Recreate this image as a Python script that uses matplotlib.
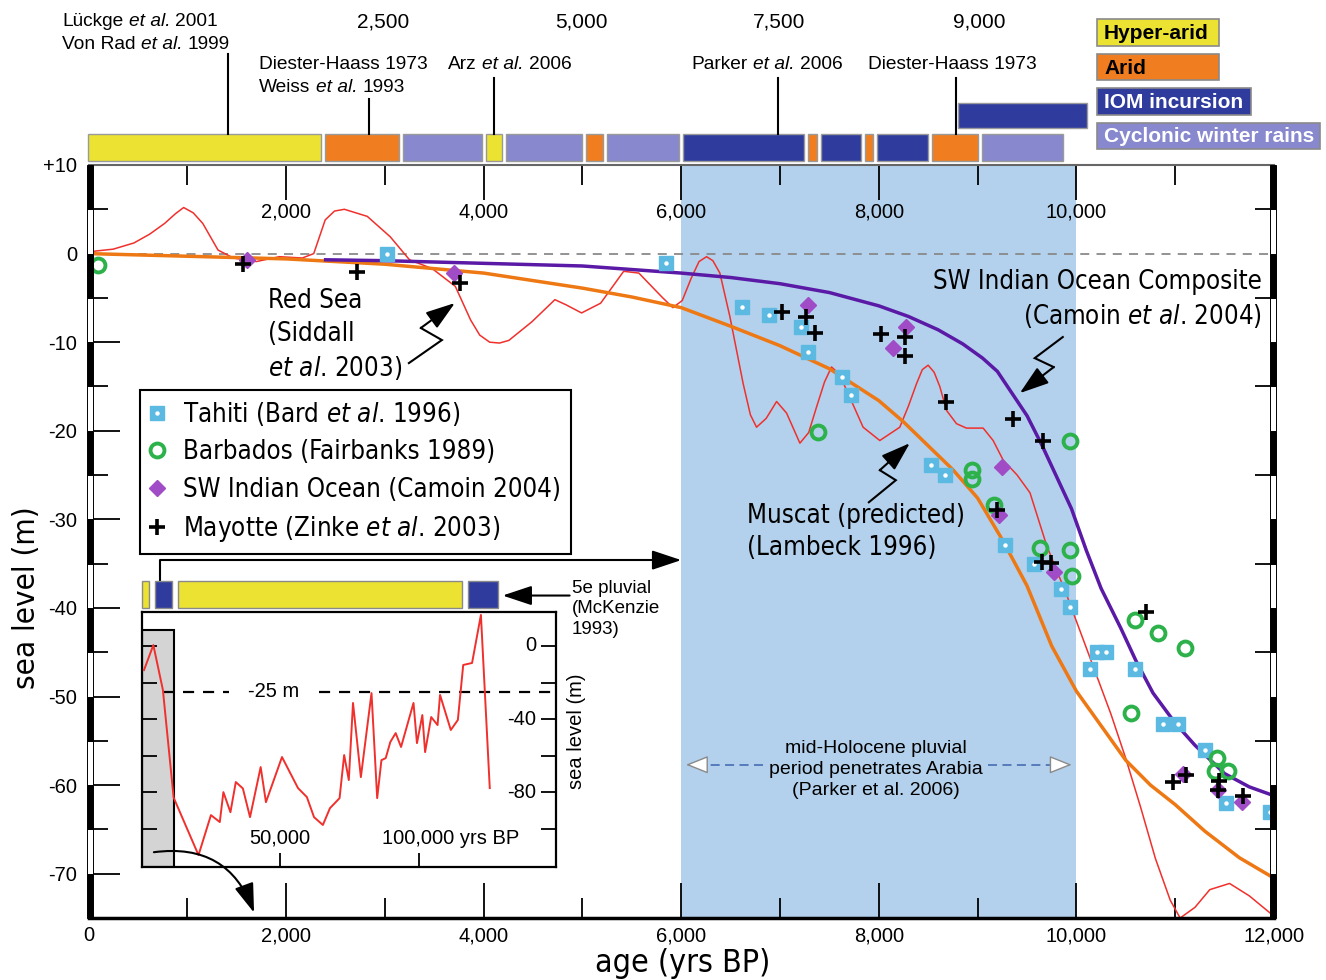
import numpy as np
import matplotlib
matplotlib.use('Agg')
import matplotlib.pyplot as plt
from matplotlib.patches import Rectangle
from matplotlib.transforms import blended_transform_factory
from matplotlib.offsetbox import TextArea, HPacker, AnnotationBbox
from matplotlib.font_manager import FontProperties

plt.rcParams['font.family'] = 'DejaVu Sans'
plt.rcParams['mathtext.fontset'] = 'custom'
plt.rcParams['mathtext.rm'] = 'DejaVu Sans:stretch=condensed'
plt.rcParams['mathtext.it'] = 'DejaVu Sans:italic:stretch=condensed'

DV = dict(family='DejaVu Sans', stretch='condensed')
AR = dict(family='Liberation Sans')

# ---------------- data ----------------
# Muscat predicted (Lambeck 1996)
muscat_age = [0, 1000, 2000, 3000, 4000, 5000, 5500, 6000, 6500, 7000, 7500, 8000, 8250, 8500,
              8750, 9000, 9250, 9500, 9750, 10000, 10250, 10500, 10750, 11000, 11300, 11650, 12000]
muscat_sl = [0, -0.3, -0.6, -1.2, -2.2, -3.9, -4.9, -6.1, -8.2, -10.4, -13.0, -16.6, -19.0, -21.7,
             -24.4, -27.6, -32.3, -37.5, -44.3, -49.4, -53.3, -57.2, -60.0, -62.2, -65.2, -68.2, -70.5]

# SW Indian Ocean composite (Camoin et al. 2004)
swio_age = [2400, 3000, 4000, 5000, 5500, 6000, 6500, 7000, 7500, 8000, 8300, 8600, 8850, 9050,
            9200, 9350, 9500, 9650, 9800, 9950, 10100, 10250, 10450, 10600, 10775, 11000, 11200,
            11500, 11750, 12000]
swio_sl = [-0.7, -0.8, -1.1, -1.4, -1.8, -2.2, -2.7, -3.4, -4.4, -5.9, -7.1, -8.6, -10.2, -11.8,
           -13.3, -15.8, -18.3, -21.6, -25.2, -28.8, -33.5, -37.8, -42.3, -45.9, -49.6, -53.0, -55.5,
           -58.7, -60.2, -61.2]

# Red Sea (Siddall et al. 2003)
redsea_age = [0, 250, 460, 620, 770, 880, 963, 1060, 1157, 1311, 1466, 1699, 1932, 2164, 2280,
              2396, 2490, 2590, 2822, 3054, 3249, 3480, 3713, 3868, 3960, 4061, 4160, 4255, 4488,
              4721, 4837, 4991, 5184, 5417, 5571, 5804, 5915, 6010, 6100, 6180, 6256, 6320, 6391,
              6492, 6627, 6700, 6762, 6860, 6965, 7066, 7201, 7290, 7370, 7450, 7521, 7600, 7673,
              7841, 8010, 8212, 8300, 8381, 8440, 8499, 8560, 8617, 8685, 8786, 8887, 9056, 9157,
              9258, 9400, 9530, 9700, 9900, 10050, 10150, 10350, 10500, 10650, 10800, 10950, 11050,
              11200, 11350, 11550, 11750, 12000]
redsea_sl = [0.2, 0.5, 1.2, 2.2, 3.4, 4.5, 5.2, 4.6, 3.4, 0.4, -0.5, -0.9, -0.35, -0.5, 0.0,
             3.8, 4.8, 5.0, 4.2, 1.9, -0.7, -1.7, -3.7, -7.5, -9.2, -10.0, -10.1, -9.8, -7.7,
             -5.2, -5.8, -6.7, -5.6, -2.0, -2.2, -4.9, -6.1, -5.3, -2.8, -0.9, -0.35, -0.8, -2.2,
             -7.1, -14.7, -18.2, -19.6, -18.6, -16.7, -18.0, -21.4, -20.2, -17.3, -14.5, -12.8,
             -13.6, -15.4, -19.6, -21.1, -19.6, -17.2, -14.7, -13.1, -12.6, -13.4, -15.0, -17.7,
             -19.2, -19.7, -19.7, -21.1, -23.3, -25.0, -27.0, -33.0, -38.5, -43.0, -46.0, -52.0,
             -57.0, -62.5, -68.3, -73.0, -75.0, -73.8, -71.8, -71.1, -72.5, -74.8]

tahiti_age = [3021, 5844, 6614, 6887, 7211, 7282, 7626, 7717, 8526, 8668, 9275, 9569, 9843, 9934,
              10137, 10207, 10298, 10592, 10874, 11025, 11299, 11511, 11956]
tahiti_sl = [-0.1, -1.1, -6.0, -6.9, -8.3, -11.1, -13.9, -16.0, -23.9, -25.0, -32.9, -35.0, -37.9,
             -39.9, -46.9, -45.0, -45.0, -46.9, -53.1, -53.1, -56.0, -62.0, -63.0]

barbados_age = [96, 7383, 9934, 8941, 8941, 9164, 9629, 9934, 9954, 10590, 10823, 11097, 10550,
                11420, 11400, 11532]
barbados_sl = [-1.3, -20.1, -21.2, -24.4, -25.4, -28.4, -33.2, -33.5, -36.4, -41.4, -42.8, -44.5,
               -51.9, -56.9, -58.4, -58.4]

swio_pts_age = [1604, 3699, 7281, 8273, 8142, 9245, 9215, 9771, 11077, 11431, 11674]
swio_pts_sl = [-0.7, -2.2, -5.8, -8.3, -10.7, -24.1, -29.5, -35.9, -58.7, -60.6, -61.9]

mayotte_age = [1564, 2717, 3759, 7018, 7261, 7352, 8020, 8263, 8263, 8678, 9356, 9660, 9194, 9650,
               9741, 10702, 10977, 11108, 11442, 11431, 11684]
mayotte_sl = [-1.2, -2.1, -3.3, -6.6, -7.2, -9.0, -9.1, -9.4, -11.6, -16.8, -18.7, -21.2, -28.9,
              -34.8, -34.9, -40.5, -59.7, -58.9, -59.5, -60.6, -61.2]

# climate periods bar above the plot
period_start = [-30, 2375, 3165, 4000, 4205, 5020, 5230, 6000, 7260, 7395, 7840, 7960, 8515, 9020]
period_end = [2375, 3165, 4000, 4205, 5020, 5230, 6000, 7260, 7395, 7840, 7960, 8515, 9020, 9885]
period_type = ['hyper', 'arid', 'cyc', 'hyper', 'cyc', 'arid', 'cyc', 'iom', 'arid', 'iom',
               'arid', 'iom', 'arid', 'cyc']
iom_upper = (8800, 10110)

# references pointing to the bar
ref_x = [1410, 2840, 4100, 6980, 8780]
top_scale_pos = [2980, 4985, 6990, 9020]
top_scale_lab = ['2,500', '5,000', '7,500', '9,000']

# inset: long record
ins_age = [720, 4100, 7550, 11440, 20430, 24930, 28130, 29430, 31980, 33920, 36480, 39060, 42910,
           44820, 50620, 56410, 59610, 62200, 65400, 67960, 71440, 73100, 74780, 76300, 79140,
           82990, 85040, 86580, 88130, 89780, 91730, 93670, 98170, 99430, 101370, 102370, 104570,
           106870, 107770, 111660, 114210, 116150, 119350, 122550, 125750]
ins_sl = [-13.2, 0.5, -24, -83, -114.5, -92.6, -96.4, -80, -91, -74.5, -78, -93.7, -66.3, -85.5,
          -60.8, -77.8, -82.7, -93.7, -98, -88.8, -83.3, -59.7, -73.4, -31.2, -71.8, -25.8, -83.3,
          -62.5, -61.4, -52.6, -47.7, -55.3, -31.2, -53.2, -37.8, -58.1, -38.9, -43.3, -26.8, -46,
          -40.5, -10.4, -9.3, 17, -77.8]
ins_bar_start = [-140, 4320, 12730, 117630]
ins_bar_end = [2840, 11150, 116150, 129000]
ins_bar_type = ['hyper', 'iom', 'hyper', 'iom']

# ---------------- style ----------------
C = {'hyper': '#EBE232', 'arid': '#F07E20', 'iom': '#2F3C9E', 'cyc': '#8888CE'}
TAH = '#5CBAE2'
BAR = '#2DB24B'
SWP = '#A04CC6'
RED = '#F0302C'
ORG = '#EE7813'
PUR = '#5A1AA6'


def fx(px):
    return px / 1326.0


def fy(py):
    return 1 - py / 980.0


def ay(py):
    return (918 - py) / 753.0


def axx(px):
    return (px - 88.5) / 1185.5


fig = plt.figure(figsize=(13.26, 9.8), dpi=100)
ax = fig.add_axes([fx(88.5), fy(918), fx(1274) - fx(88.5), fy(165) - fy(918)])
ax.set_xlim(0, 12000)
ax.set_ylim(-75, 10)

ax.axvspan(6000, 10000, color='#B3D1EC', lw=0, zorder=0)
ax.axhline(0, color='#8a8a8a', ls=(0, (5, 4)), lw=1.3, zorder=1)

ax.plot(redsea_age, redsea_sl, color=RED, lw=1.1, zorder=2, solid_joinstyle='round')
ax.plot(muscat_age, muscat_sl, color=ORG, lw=2.5, zorder=3)
ax.plot(swio_age, swio_sl, color=PUR, lw=2.5, zorder=3)

h_t, = ax.plot(tahiti_age, tahiti_sl, ls='none', marker='s', ms=9.5, mfc=TAH, mec=TAH, zorder=5)
h_td, = ax.plot(tahiti_age, tahiti_sl, ls='none', marker='o', ms=2.2, mfc='white', mec='white', zorder=5)
h_b, = ax.plot(barbados_age, barbados_sl, ls='none', marker='o', ms=10, mfc='none', mec=BAR, mew=2.8,
               zorder=5, clip_on=False)
h_s, = ax.plot(swio_pts_age, swio_pts_sl, ls='none', marker='D', ms=8.5, mfc=SWP, mec=SWP, zorder=5)
h_m, = ax.plot(mayotte_age, mayotte_sl, ls='none', marker='+', ms=12, mec='black', mew=2.6, zorder=6)

# axes, ticks
ax.set_xticks(np.arange(0, 12001, 2000))
ax.set_xticks(np.arange(1000, 12000, 2000), minor=True)
ax.set_xticklabels(['{:,}'.format(v) for v in range(0, 12001, 2000)], fontsize=14.5, **AR)
ax.tick_params(axis='x', which='both', direction='in', top=True, bottom=True, width=1.3, pad=6)
ax.tick_params(axis='x', which='major', length=25)
ax.tick_params(axis='x', which='minor', length=14.5)
yt = np.arange(-70, 11, 10)
ax.set_yticks(yt)
ax.set_yticks(np.arange(-65, 6, 10), minor=True)
ax.set_yticklabels(['+10' if v == 10 else str(v) for v in yt], fontsize=14.5, **AR)
ax.tick_params(axis='y', which='major', direction='in', left=True, right=False, length=22, width=1.3, pad=8)
ax.tick_params(axis='y', which='minor', direction='in', left=True, right=True, length=13.5, width=1.3)
ax.spines['bottom'].set_linewidth(2.5)
ax.spines['top'].set_color('#666666')
ax.spines['top'].set_linewidth(1.5)
for s in ('left', 'right'):
    ax.spines[s].set_linewidth(0.8)

# zebra scale bars on both sides
tz = blended_transform_factory(ax.transAxes, ax.transData)
for y0 in np.arange(-75, 10, 5):
    fc = 'black' if (y0 + 5) % 10 == 0 else 'white'
    for x0 in (-0.0015, 0.9966):
        ax.add_patch(Rectangle((x0, y0), 0.0051, 5, transform=tz, fc=fc, ec='black', lw=0.7,
                               clip_on=False, zorder=10))

for v in range(2000, 10001, 2000):
    ax.text(v, 4.7, '{:,}'.format(v), ha='center', va='center', fontsize=14.5, **AR)

ax.set_xlabel('age (yrs BP)', fontsize=23, **DV)
ax.xaxis.set_label_coords(0.5015, -0.040)
ax.set_ylabel('sea level (m)', fontsize=22.5, **DV)
ax.yaxis.set_label_coords(-0.040, 0.425)

# climate bar on top
tb = blended_transform_factory(ax.transData, ax.transAxes)
for s, e, k in zip(period_start, period_end, period_type):
    ax.add_patch(Rectangle((s + 20, ay(161)), e - s - 40, ay(134) - ay(161), transform=tb,
                           fc=C[k], ec='#9a9a9a', lw=1, clip_on=False))
ax.add_patch(Rectangle((iom_upper[0], ay(128)), iom_upper[1] - iom_upper[0], ay(103) - ay(128),
                       transform=tb, fc=C['iom'], ec='#9a9a9a', lw=1, clip_on=False))

for x, ytop in zip(ref_x, [54, 99, 78, 78, 78]):
    ax.plot([x, x], [ay(ytop), ay(134)], transform=tb, color='black', lw=1.5, clip_on=False)
for x, lab in zip(top_scale_pos, top_scale_lab):
    ax.text(x, ay(22), lab, transform=tb, ha='center', va='center', fontsize=15, **AR)


def rich(x, y, parts, size=13.8):
    kids = [TextArea(t, textprops=dict(size=size, family='Liberation Sans',
                                       style='italic' if it else 'normal')) for t, it in parts]
    box = HPacker(children=kids, align='baseline', pad=0, sep=3.8)
    ab = AnnotationBbox(box, (x, y), xycoords=tb, frameon=False, box_alignment=(0, 0.5),
                        pad=0, annotation_clip=False)
    ax.add_artist(ab)


rich(-268, ay(22), [('Lückge', 0), ('et al.', 1), ('2001', 0)])
rich(-268, ay(45), [('Von Rad', 0), ('et al.', 1), ('1999', 0)])
rich(1725, ay(65), [('Diester-Haass 1973', 0)])
rich(1725, ay(88), [('Weiss', 0), ('et al.', 1), ('1993', 0)])
rich(3638, ay(65), [('Arz', 0), ('et al.', 1), ('2006', 0)])
rich(6107, ay(65), [('Parker', 0), ('et al.', 1), ('2006', 0)])
rich(7889, ay(65), [('Diester-Haass 1973', 0)])

# key for the climate bar
keys = [('Hyper-arid', 'hyper', 19, 46, 1219, 'black'), ('Arid', 'arid', 54, 80, 1219, 'black'),
        ('IOM incursion', 'iom', 88, 115, 1251, 'white'),
        ('Cyclonic winter rains', 'cyc', 123, 149, 1320, 'white')]
for lab, k, y0, y1, x1, tc in keys:
    fig.add_artist(Rectangle((fx(1097), fy(y1)), fx(x1) - fx(1097), fy(y0) - fy(y1),
                             transform=fig.transFigure, fc=C[k], ec='#8a8a8a', lw=1.2))
    fig.text(fx(1104), fy((y0 + y1) / 2 + 1), lab, color=tc, fontsize=15, fontweight='bold',
             ha='left', va='center', **AR)

# annotations
ax.text(1819, -9.2, 'Red Sea\n(Siddall\n$et\\ al$. 2003)', ha='left', va='center', fontsize=18.5,
        linespacing=1.32, zorder=7, **DV)
ax.text(11876, -5.2, 'SW Indian Ocean Composite\n(Camoin $et\\ al$. 2004)', ha='right', va='center',
        multialignment='right', fontsize=18.5, linespacing=1.3, zorder=7, **DV)
ax.text(6664, -31.4, 'Muscat (predicted)\n(Lambeck 1996)', ha='left', va='center', fontsize=18.5,
        linespacing=1.3, zorder=7, **DV)


def bolt(xs, ys):
    ax.plot(xs[:-1], ys[:-1], color='black', lw=1.5, zorder=7, solid_joinstyle='miter')
    ax.annotate('', xy=(xs[-1], ys[-1]), xytext=(xs[-2], ys[-2]),
                arrowprops=dict(arrowstyle='-|>,head_length=0.9,head_width=0.3', color='black',
                                lw=1.5, shrinkA=0, shrinkB=0, mutation_scale=20), zorder=7)


bolt([3243, 3577, 3364, 3709], [-12.36, -9.76, -8.40, -5.58])
bolt([9862, 9578, 9770, 9427], [-9.42, -11.80, -12.81, -15.75])
bolt([7899, 8172, 8010, 8314], [-28.07, -25.58, -24.45, -21.40])

ax.text(7965, -58.2, 'mid-Holocene pluvial\nperiod penetrates Arabia\n(Parker et al. 2006)',
        ha='center', va='center', fontsize=14, linespacing=1.3, zorder=7, **AR)
for x0, x1, x2 in ((6826, 6239, 6047), (9103, 9730, 9953)):
    ax.plot([x0, x1], [-57.7, -57.7], color='#4f74b8', lw=1.3, ls=(0, (5, 3)), zorder=7)
    ax.annotate('', xy=(x2, -57.7), xytext=(x1, -57.7),
                arrowprops=dict(arrowstyle='-|>,head_length=1.0,head_width=0.4', fc='white',
                                ec='#8a8a8a', lw=1, shrinkA=0, shrinkB=0, mutation_scale=14), zorder=7)

# connector from inset bar to main plot
ax.annotate('', xy=(6000, -34.6), xytext=(724, -37.0),
            arrowprops=dict(arrowstyle='-|>,head_length=0.9,head_width=0.3', color='black', lw=1.5,
                            connectionstyle='angle,angleA=90,angleB=0,rad=0', shrinkA=0, shrinkB=0,
                            mutation_scale=20), zorder=7)
ax.annotate('', xy=(4192, -38.6), xytext=(4870, -38.6),
            arrowprops=dict(arrowstyle='-|>,head_length=0.9,head_width=0.3', color='black', lw=1.5,
                            shrinkA=0, shrinkB=0, mutation_scale=20), zorder=7)
ax.text(4890, -40.1, '5e pluvial\n(McKenzie\n1993)', ha='left', va='center', fontsize=13.5,
        linespacing=1.27, zorder=7, **AR)

# legend
leg = ax.legend([(h_t, h_td), h_b, h_s, h_m],
                ['Tahiti (Bard $et\\ al$. 1996)', 'Barbados (Fairbanks 1989)',
                 'SW Indian Ocean (Camoin 2004)', 'Mayotte (Zinke $et\\ al$. 2003)'],
                loc='upper left', bbox_to_anchor=(axx(140), ay(390)), borderaxespad=0,
                fancybox=False, edgecolor='black', framealpha=1, prop=FontProperties(size=18.5, **DV),
                handlelength=0.6, handletextpad=0.7, labelspacing=0.45, borderpad=0.38)
leg.get_frame().set_linewidth(1.5)
leg.set_zorder(8)

# ---------------- inset ----------------
axi = fig.add_axes([fx(142), fy(867), fx(556) - fx(142), fy(612) - fy(867)])
axi.set_xlim(0, 149700)
axi.set_ylim(-121, 18.6)
axi.add_patch(Rectangle((0, -121), 11500, 130, fc='#d4d4d4', ec='black', lw=1.5, zorder=1))
axi.hlines([-25, -25], [7500, 64000], [31300, 149700], colors='black', linestyles=(0, (5, 4)),
           lw=1.6, zorder=2)
axi.plot(ins_age, ins_sl, color=RED, lw=1.4, zorder=3)
axi.text(47500, -25, '-25 m', ha='center', va='center', fontsize=14.5, **AR)
axi.set_yticks([0, -40, -80])
axi.set_yticks([-20, -60, -100], minor=True)
axi.set_xticks([50000, 100000])
axi.tick_params(axis='both', which='both', direction='in', labelleft=False, labelbottom=False,
                left=True, right=True, width=1.3, length=11)
axi.tick_params(axis='x', length=10)
for s in axi.spines.values():
    s.set_linewidth(1.6)
ti = blended_transform_factory(axi.transAxes, axi.transData)
for v in [0, -40, -80]:
    axi.text(1 - 20 / 414.0, v, str(v), transform=ti, ha='right', va='center', fontsize=14.5, **AR)
axi.text(50000, -105.2, '50,000', ha='center', va='center', fontsize=14.5, **AR)
axi.text(86700, -105.2, '100,000 yrs BP', ha='left', va='center', fontsize=14.5, **AR)
axi.text(1.0507, 0.533, 'sea level (m)', transform=axi.transAxes, rotation=90, ha='center',
         va='center', fontsize=14.5, **AR)

tbi = blended_transform_factory(axi.transData, axi.transAxes)
for s, e, k in zip(ins_bar_start, ins_bar_end, ins_bar_type):
    axi.add_patch(Rectangle((s + 300, 1.0157), e - s - 600, 0.1059, transform=tbi, fc=C[k],
                            ec='#8a8a8a', lw=1, clip_on=False))

axi.annotate('', xy=(1676, -74.4), xycoords=ax.transData, xytext=(4300, -112.9), textcoords='data',
             arrowprops=dict(arrowstyle='-|>,head_length=0.9,head_width=0.3', color='black', lw=1.5,
                             connectionstyle='arc3,rad=-0.4', shrinkA=0, shrinkB=0, mutation_scale=20),
             annotation_clip=False)

fig.savefig('out.png', dpi=100)
